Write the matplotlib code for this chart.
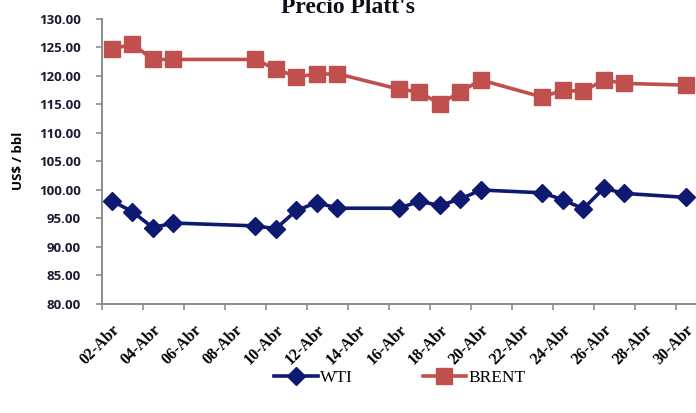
import matplotlib
matplotlib.use("Agg")
import matplotlib.pyplot as plt
from matplotlib.ticker import FixedLocator, FuncFormatter

# trading days of April (day of month)
days = [2, 3, 4, 5, 9, 10, 11, 12, 13, 16, 17, 18, 19, 20, 23, 24, 25, 26, 27, 30]
wti = [98.1, 96.2, 93.4, 94.2, 93.7, 93.2, 96.4, 97.8, 96.8, 96.8,
       98.0, 97.3, 98.4, 100.0, 99.5, 98.3, 96.7, 100.3, 99.4, 98.7]
brent = [124.7, 125.6, 122.9, 122.9, 122.9, 121.2, 119.9, 120.3, 120.4, 117.7,
         117.2, 115.1, 117.2, 119.3, 116.3, 117.5, 117.3, 119.3, 118.7, 118.4]
tick_days = list(range(2, 31, 2))
tick_labels = ["%02d-Abr" % d for d in tick_days]

NAVY = "#0E1A72"
RED = "#C0504D"
AXC = "#8C8C8C"

fig = plt.figure(figsize=(6.96, 4.13), dpi=100)
ax = fig.add_axes([0.146, 0.264, 0.854, 0.690])

ax.plot(days, wti, color=NAVY, lw=2.6, marker="D", ms=9.5, label="WTI", zorder=3)
ax.plot(days, brent, color=RED, lw=2.6, marker="s", ms=11.5, label="BRENT", zorder=3)

ax.set_xlim(1.5, 30.5)
ax.set_ylim(80, 130)
ax.set_yticks(range(80, 131, 5))
ax.yaxis.set_major_formatter(FuncFormatter(lambda v, p: "%.2f" % v))

# tick marks on day boundaries, labels on day centres
ax.xaxis.set_major_locator(FixedLocator([d - 0.5 for d in tick_days]))
ax.xaxis.set_major_formatter(FuncFormatter(lambda v, p: ""))
ax.xaxis.set_minor_locator(FixedLocator(tick_days))
ax.set_xticklabels(tick_labels, minor=True, rotation=45, ha="right",
                   rotation_mode="anchor", family="Liberation Serif",
                   fontweight="bold", fontsize=11.5)
ax.tick_params(axis="x", which="minor", length=0, pad=13)
ax.tick_params(axis="x", which="major", length=4, color=AXC, width=1.2)
ax.tick_params(axis="y", length=4, color=AXC, width=1.2, pad=11)
for lbl in ax.get_yticklabels():
    lbl.set_family("Open Sans")
    lbl.set_fontweight("bold")
    lbl.set_fontsize(9.5)
    lbl.set_color("#1a1a33")

for s in ["top", "right"]:
    ax.spines[s].set_visible(False)
for s in ["left", "bottom"]:
    ax.spines[s].set_color(AXC)
    ax.spines[s].set_linewidth(1.4)

fig.text(0.5, 0.969, "Precio Platt's", ha="center", va="baseline",
         family="Liberation Serif", fontweight="bold", fontsize=17, color="#0d0d1a")
fig.text(0.026, 0.61, "US$ / bbl", rotation=90, ha="center", va="center",
         family="Open Sans", fontweight="bold", fontsize=9.5)

fig.legend(loc="center", bbox_to_anchor=(0.575, 0.085), ncol=2, frameon=False,
           handlelength=2.5, columnspacing=4.0, handletextpad=0.15,
           prop={"family": "Liberation Serif", "size": 12.5})

fig.savefig("out.png", dpi=100)
